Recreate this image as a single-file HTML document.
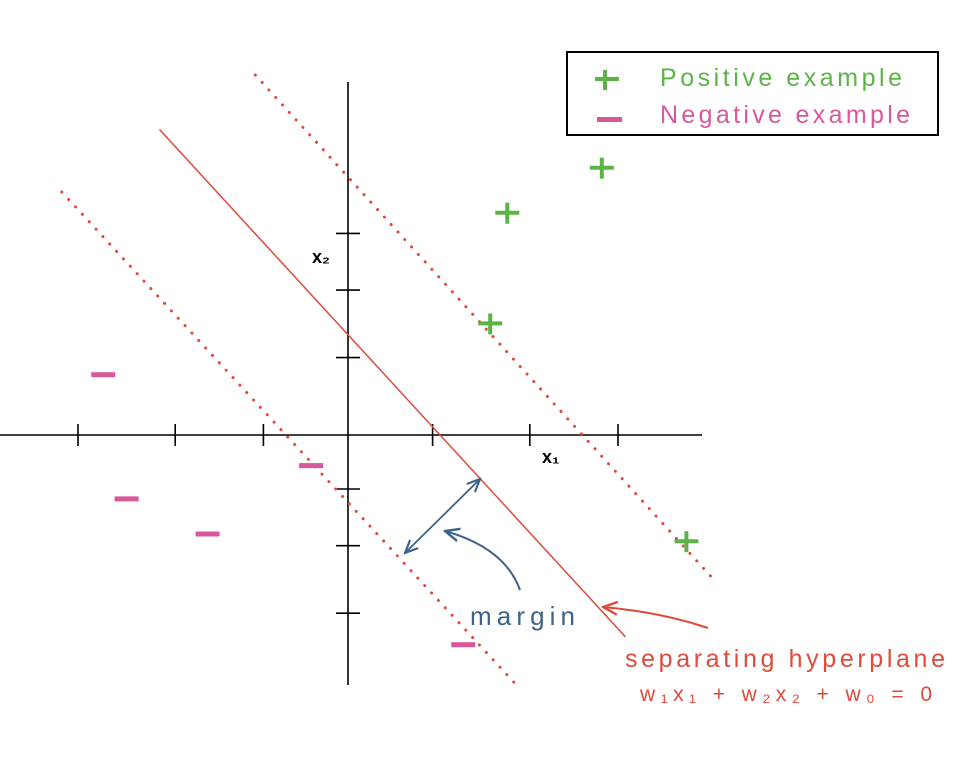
<!DOCTYPE html>
<html><head><meta charset="utf-8"><style>
html,body{margin:0;padding:0;background:#fff}
svg{display:block;font-family:"Liberation Sans",sans-serif}
</style></head><body>
<svg id="c" width="968" height="772" viewBox="0 0 968 772">
<g id="axes"></g>
<g id="lines"></g>
<g id="pts"></g>
<g>
<defs>
<marker id="ab" viewBox="0 0 10 10" refX="9" refY="5" markerWidth="8" markerHeight="8" orient="auto-start-reverse"><path d="M0,1 L9,5 L0,9" fill="none" stroke="#3d6288" stroke-width="1.5"/></marker>
<marker id="ar" viewBox="0 0 10 10" refX="9" refY="5" markerWidth="8" markerHeight="8" orient="auto"><path d="M0,1 L9,5 L0,9" fill="none" stroke="#e04a3c" stroke-width="1.5"/></marker>
</defs>
<line x1="405" y1="553" x2="480" y2="479" stroke="#3d6288" stroke-width="1.8" marker-start="url(#ab)" marker-end="url(#ab)"/>
<path d="M520,590 Q505,548 445,531" fill="none" stroke="#3d6288" stroke-width="2" marker-end="url(#ab)"/>
<path d="M708,628 Q660,612 603,607" fill="none" stroke="#e04a3c" stroke-width="2" marker-end="url(#ar)"/>
<text x="470" y="625" font-size="26" fill="#3d6288" textLength="105" lengthAdjust="spacing">margin</text>
<text x="625" y="667" font-size="25" fill="#e04a3c" textLength="320" lengthAdjust="spacing">separating hyperplane</text>
<text x="640" y="701" font-size="21" fill="#e04a3c" textLength="292" lengthAdjust="spacing">w₁x₁ + w₂x₂ + w₀ = 0</text>
<text x="312" y="263" font-size="18" fill="#000" font-weight="bold">x₂</text>
<text x="542" y="463" font-size="18" fill="#000" font-weight="bold">x₁</text>
</g>
<g>
<rect x="567" y="52" width="371" height="83" fill="#fff" stroke="#000" stroke-width="2"/>
<g stroke="#5cb346" stroke-width="4"><line x1="595" y1="79" x2="619" y2="79"/><line x1="605" y1="70" x2="605" y2="90"/></g>
<text x="660" y="86" font-size="25" fill="#5cb346" textLength="242" lengthAdjust="spacing">Positive example</text>
<rect x="597" y="117" width="25" height="5" fill="#d9589a"/>
<text x="660" y="123" font-size="25" fill="#d9589a" textLength="250" lengthAdjust="spacing">Negative example</text>
</g>
</svg>
<script>
const xTicks=[-3,-1.92,-0.94,0.94,2.02,3];
const yTicks=[2.24,1.61,0.86,-0.6,-1.23,-1.98];
const posX=[2.82,1.77,1.58,3.76];
const posY=[2.97,2.47,1.24,-1.18];
const negX=[-2.72,-2.46,-1.56,-0.41,1.28];
const negY=[0.67,-0.71,-1.1,-0.34,-2.33];
const lineNames=['upper-margin-line','hyperplane','lower-margin-line'];
const lineX1=[-1.03,-2.09,-3.18];
const lineY1=[4.0,3.39,2.7];
const lineX2=[4.04,3.08,1.91];
const lineY2=[-1.58,-2.24,-2.82];
const X=v=>348+v*90, Y=v=>435-v*90;
const NS='http://www.w3.org/2000/svg';
function mk(t,a,p){const e=document.createElementNS(NS,t);for(const k in a)e.setAttribute(k,a[k]);p.appendChild(e);return e;}
const ax=document.getElementById('axes');
let e=mk('line',{x1:0,y1:435,x2:702,y2:435,stroke:'#000','stroke-width':1.6},ax);


e=mk('line',{x1:348,y1:82,x2:348,y2:685,stroke:'#000','stroke-width':1.6},ax);


xTicks.forEach(v=>{const t=mk('line',{x1:X(v),y1:424,x2:X(v),y2:446,stroke:'#000','stroke-width':1.6},ax);

});
yTicks.forEach(v=>{const t=mk('line',{x1:336,y1:Y(v),x2:360,y2:Y(v),stroke:'#000','stroke-width':1.6},ax);

});
const ln=document.getElementById('lines');
lineNames.forEach((n,i)=>{const dotted=n!=='hyperplane';
const l=mk('line',{x1:X(lineX1[i]),y1:Y(lineY1[i]),x2:X(lineX2[i]),y2:Y(lineY2[i]),stroke:'#e04a3c','stroke-width':dotted?3:1.5,'stroke-dasharray':dotted?'0.1 10':'none','stroke-linecap':'round'},ln);

});
const pg=document.getElementById('pts');
posX.forEach((v,i)=>{const g=mk('g',{},pg);


const x=X(v),y=Y(posY[i]);
mk('line',{x1:x-12,y1:y,x2:x+12,y2:y,stroke:'#5cb346','stroke-width':4},g);
mk('line',{x1:x,y1:y-10,x2:x,y2:y+11,stroke:'#5cb346','stroke-width':4},g);});
negX.forEach((v,i)=>{const r=mk('rect',{x:X(v)-12,y:Y(negY[i])-2.5,width:24,height:5,fill:'#d9589a'},pg);

});
</script>
</body></html>
